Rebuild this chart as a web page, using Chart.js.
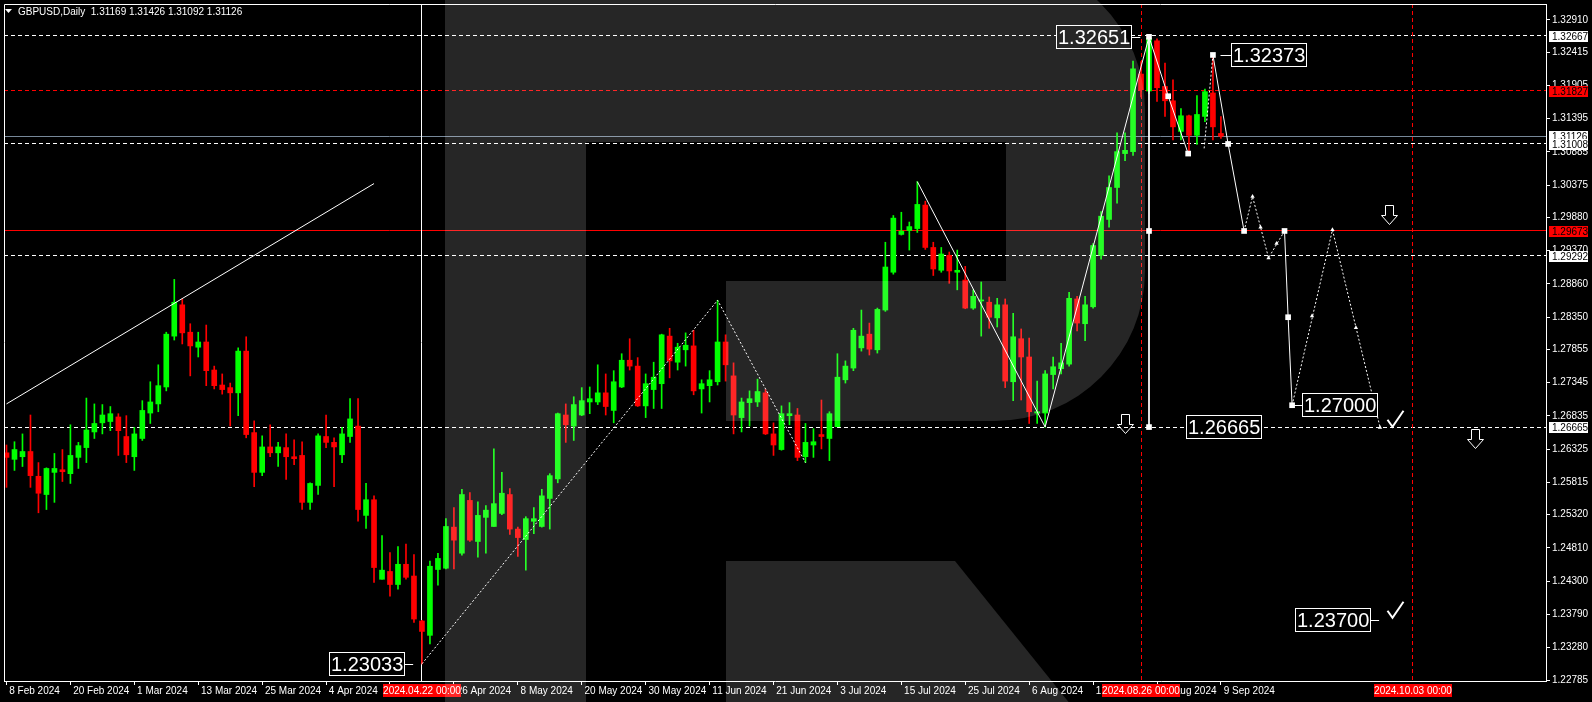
<!DOCTYPE html>
<html>
<head>
<meta charset="utf-8">
<script src="https://cdn.jsdelivr.net/npm/chart.js@4/dist/chart.umd.min.js"></script>
<style>
  html, body { margin: 0; padding: 0; background: #000; overflow: hidden; }
  canvas { display: block; }
</style>
</head>
<body>
<canvas id="chart" width="1592" height="702"></canvas>
<script>
// GBPUSD daily bars, bar 0 = 8 Feb 2024 ... bar 152 = 9 Sep 2024
const opens = [
  1.2627,1.2617,1.2621,1.2629,1.2591,1.2563,1.2597,1.2601,1.2595,1.2620,
  1.2635,1.2659,1.2673,1.2675,1.2682,1.2652,1.2621,1.2649,1.2688,1.2702,
  1.2728,1.2806,1.2854,1.2812,1.2789,1.2797,1.2754,1.2731,1.2727,1.2719,
  1.2783,1.2658,1.2597,1.2636,1.2627,1.2635,1.2621,1.2623,1.2551,1.2577,
  1.2652,1.2643,1.2624,1.2652,1.2668,1.2531,1.2555,1.2433,1.2445,1.2425,
  1.2456,1.2438,1.2369,1.2347,1.2448,1.2450,1.2513,1.2473,1.2554,1.2491,
  1.2528,1.2514,1.2534,1.2563,1.2510,1.2494,1.2522,1.2514,1.2557,1.2587,
  1.2685,1.2668,1.2685,1.2705,1.2705,1.2719,1.2692,1.2728,1.2769,1.2760,
  1.2699,1.2724,1.2733,1.2806,1.2766,1.2785,1.2791,1.2725,1.2730,1.2736,
  1.2797,1.2745,1.2681,1.2704,1.2705,1.2719,1.2656,1.2632,1.2684,1.2685,
  1.2621,1.2639,1.2655,1.2649,1.2667,1.2739,1.2757,1.2788,1.2809,1.2785,
  1.2846,1.2904,1.2962,1.2968,1.2971,1.3007,1.2942,1.2907,1.2930,1.2904,
  1.2892,1.2849,1.2860,1.2858,1.2834,1.2854,1.2736,1.2802,1.2774,1.2688,
  1.2688,1.2747,1.2756,1.2763,1.2863,1.2825,1.2851,1.2930,1.2985,1.3034,
  1.3086,1.3089,1.3208,1.3182,1.3259,1.3189,1.3167,1.3120,1.3144,1.3114,
  1.3143,1.3179,1.31169
];
const highs = [
  1.2639,1.2644,1.2656,1.2685,1.2612,1.2604,1.2626,1.2632,1.2670,1.2643,
  1.2711,1.2702,1.2701,1.2698,1.2687,1.2684,1.2666,1.2707,1.2736,1.2762,
  1.2812,1.2893,1.2863,1.2825,1.2812,1.2823,1.2760,1.2748,1.2734,1.2788,
  1.2805,1.2676,1.2653,1.2670,1.2643,1.2656,1.2647,1.2644,1.2581,1.2656,
  1.2685,1.2650,1.2666,1.2710,1.2710,1.2580,1.2561,1.2500,1.2474,1.2483,
  1.2487,1.2471,1.2370,1.2461,1.2473,1.2526,1.2543,1.2571,1.2566,1.2552,
  1.2546,1.2633,1.2597,1.2572,1.2513,1.2529,1.2543,1.2571,1.2595,1.2688,
  1.2702,1.2713,1.2727,1.2728,1.2762,1.2748,1.2753,1.2779,1.2802,1.2773,
  1.2748,1.2766,1.2809,1.2818,1.2795,1.2811,1.2815,1.2739,1.2753,1.2861,
  1.2808,1.2765,1.2711,1.2722,1.2740,1.2724,1.2673,1.2699,1.2704,1.2695,
  1.2672,1.2664,1.2708,1.2690,1.2779,1.2768,1.2818,1.2846,1.2826,1.2849,
  1.2950,1.2991,1.2996,1.2981,1.3043,1.3013,1.2950,1.2942,1.2935,1.2938,
  1.2913,1.2877,1.2889,1.2866,1.2864,1.2863,1.2841,1.2817,1.2803,1.2737,
  1.2753,1.2774,1.2795,1.2873,1.2867,1.2867,1.2948,1.2997,1.3052,1.3118,
  1.3118,1.3228,1.3227,1.32651,1.3262,1.3225,1.3199,1.3155,1.3145,1.3175,
  1.3185,1.32373,1.31426
];
const lows = [
  1.2574,1.2600,1.2606,1.2574,1.2535,1.2540,1.2551,1.2583,1.2580,1.2603,
  1.2612,1.2649,1.2656,1.2661,1.2623,1.2612,1.2600,1.2646,1.2672,1.2690,
  1.2722,1.2800,1.2794,1.2745,1.2774,1.2730,1.2725,1.2717,1.2668,1.2684,
  1.2650,1.2575,1.2592,1.2621,1.2606,1.2586,1.2609,1.2540,1.2540,1.2563,
  1.2635,1.2575,1.2612,1.2643,1.2522,1.2511,1.2428,1.2433,1.2407,1.2418,
  1.2433,1.2367,1.23033,1.2334,1.2424,1.2449,1.2449,1.2470,1.2491,1.2467,
  1.2473,1.2514,1.2532,1.2502,1.2468,1.2447,1.2503,1.2513,1.2510,1.2581,
  1.2643,1.2646,1.2684,1.2687,1.2701,1.2685,1.2673,1.2727,1.2754,1.2698,
  1.2681,1.2695,1.2695,1.2742,1.2754,1.2760,1.2716,1.2688,1.2705,1.2731,
  1.2737,1.2656,1.2659,1.2668,1.2698,1.2655,1.2623,1.2631,1.2670,1.2615,
  1.2612,1.2620,1.2633,1.2615,1.2667,1.2734,1.2753,1.2783,1.2777,1.2780,
  1.2844,1.2901,1.2961,1.2938,1.2965,1.2939,1.2899,1.2904,1.2887,1.2877,
  1.2848,1.2847,1.2806,1.2818,1.2820,1.2727,1.2707,1.2708,1.2672,1.2672,
  1.26665,1.2725,1.2748,1.2760,1.2814,1.2799,1.2849,1.2924,1.2973,1.3010,
  1.3075,1.3083,1.3173,1.3178,1.3166,1.3143,1.3107,1.3107,1.3088,1.3100,
  1.3135,1.3107,1.31092
];
const closes = [
  1.2620,1.2632,1.2629,1.2592,1.2565,1.2603,1.2603,1.2598,1.2623,1.2638,
  1.2662,1.2672,1.2685,1.2687,1.2661,1.2624,1.2656,1.2692,1.2705,1.2730,
  1.2809,1.2858,1.2811,1.2791,1.2797,1.2753,1.2730,1.2724,1.2719,1.2783,
  1.2655,1.2597,1.2636,1.2627,1.2636,1.2621,1.2618,1.2551,1.2580,1.2653,
  1.2643,1.2636,1.2656,1.2679,1.2540,1.2555,1.2451,1.2447,1.2425,1.2456,
  1.2436,1.2372,1.2353,1.2453,1.2465,1.2514,1.2493,1.2563,1.2493,1.2531,
  1.2539,1.2549,1.2565,1.2510,1.2497,1.2526,1.2526,1.2561,1.2592,1.2687,
  1.2670,1.2701,1.2707,1.2710,1.2719,1.2698,1.2736,1.2769,1.2760,1.2699,
  1.2733,1.2743,1.2808,1.2768,1.2789,1.2792,1.2722,1.2733,1.2739,1.2797,
  1.2762,1.2685,1.2705,1.2710,1.2721,1.2656,1.2639,1.2687,1.2687,1.2620,
  1.2643,1.2644,1.2652,1.2687,1.2743,1.2760,1.2815,1.2806,1.2786,1.2847,
  1.2912,1.2987,1.2967,1.2974,1.3008,1.2942,1.2909,1.2932,1.2906,1.2907,
  1.2849,1.2867,1.2861,1.2835,1.2854,1.2737,1.2805,1.2774,1.2690,1.2690,
  1.2748,1.2759,1.2765,1.2864,1.2826,1.2854,1.2945,1.2990,1.3034,1.3089,
  1.3091,1.3216,1.3184,1.3263,1.3187,1.3167,1.3127,1.3144,1.3114,1.3146,
  1.3181,1.3127,1.31126
];

// date axis: one label every 8 bars
const dateTickBars = [0,8,16,24,32,40,48,56,64,72,80,88,96,104,112,120,128,136,144,152];
const dateTickLabels = ['8 Feb 2024','20 Feb 2024','1 Mar 2024','13 Mar 2024','25 Mar 2024','4 Apr 2024',
  '16 Apr 2024','26 Apr 2024','8 May 2024','20 May 2024','30 May 2024','11 Jun 2024','21 Jun 2024',
  '3 Jul 2024','15 Jul 2024','25 Jul 2024','6 Aug 2024','16 Aug 2024','28 Aug 2024','9 Sep 2024'];
const priceTicks = [1.32910,1.32415,1.31905,1.31395,1.30885,1.30375,1.29880,1.29370,1.28860,1.28350,
  1.27855,1.27345,1.26835,1.26325,1.25815,1.25320,1.24810,1.24300,1.23790,1.23280,1.22785];

// horizontal levels and vertical markers
const levelPrices = [1.32667, 1.31827, 1.31126, 1.31008, 1.29673, 1.29292, 1.26665];
const markerBars = [52, 142, 176];
const markerDates = ['2024.04.22 00:00', '2024.08.26 00:00', '2024.10.03 00:00'];

// analyst drawings (bar index, price)
const trendUp = [{x: 0, y: 1.2702}, {x: 46, y: 1.3040}];
const waveDotted = [{x: 52, y: 1.23033}, {x: 89, y: 1.2861}, {x: 100, y: 1.2612}];
const waveSolid = [{x: 114, y: 1.3043}, {x: 130, y: 1.26665}, {x: 143, y: 1.32651}, {x: 145.4, y: 1.3174}, {x: 147.9, y: 1.3086}];
const waveDotted2 = [{x: 149.9, y: 1.3094}, {x: 151, y: 1.32373}];
const rangeBar = [{x: 143, y: 1.32651}, {x: 143, y: 1.26665}];
const fcSolid1 = [{x: 151, y: 1.32373}, {x: 152.9, y: 1.31008}, {x: 154.9, y: 1.29673}];
const fcDotted1 = [{x: 154.9, y: 1.29673}, {x: 155.96, y: 1.3020}, {x: 157.96, y: 1.2926}, {x: 159.96, y: 1.29673}];
const fcSolid2 = [{x: 159.96, y: 1.29673}, {x: 160.41, y: 1.2835}, {x: 160.91, y: 1.2700}];
const fcDotted2 = [{x: 160.91, y: 1.2700}, {x: 165.96, y: 1.2969}, {x: 171.91, y: 1.26665}];
const squareMarks = [{x: 143, y: 1.32651}, {x: 143, y: 1.29673}, {x: 143, y: 1.26665}, {x: 145.4, y: 1.3174},
  {x: 147.9, y: 1.3086}, {x: 151, y: 1.32373}, {x: 152.9, y: 1.31008}, {x: 154.9, y: 1.29673},
  {x: 159.96, y: 1.29673}, {x: 160.41, y: 1.2835}, {x: 160.91, y: 1.2700}];
const arrowMarks = [{x: 155.96, y: 1.3020}, {x: 156.96, y: 1.2973}, {x: 157.96, y: 1.2926}, {x: 158.96, y: 1.2948},
  {x: 163.4, y: 1.2837}, {x: 165.96, y: 1.2969}, {x: 168.9, y: 1.2819}, {x: 171.91, y: 1.2666}];

// price tags: value, bar index of the tag's left edge, bar index the leader runs to
const tagValues = [1.32651, 1.32373, 1.27000, 1.26665, 1.23700, 1.23033];
const tagLeft = [131.4, 153.3, 162.2, 147.6, 161.3, 40.35];
const tagLink = [141.9, 151.95, 160.91, null, 171.8, 50.9];
const checkMarks = [{x: 173.6, y: 1.2667}, {x: 173.6, y: 1.2374}];
const downArrows = [{x: 140, y: 1.2687}, {x: 173, y: 1.3007}, {x: 183.8, y: 1.2664}];

const X_MIN = -0.3125, X_MAX = 192.6875;
const Y_MIN = 1.227697, Y_MAX = 1.331546;

const GREEN = '#00ff00', RED = '#ff0000';
const candleColors = closes.map((c, i) => c >= opens[i] ? GREEN : RED);
const wickData = lows.map((l, i) => ({x: i, y: [l, highs[i]]}));
const bodyData = opens.map((o, i) => ({x: i, y: [o, closes[i]]}));

const levelStyle = [
  {color: '#ffffff', dash: [4, 3], box: '#ffffff'},
  {color: '#ff0000', dash: [4, 3], box: '#ff0000'},
  {color: '#778899', dash: [], box: '#ffffff'},
  {color: '#ffffff', dash: [4, 3], box: '#ffffff'},
  {color: '#ff0000', dash: [], box: '#ff0000'},
  {color: '#ffffff', dash: [4, 3], box: '#ffffff'},
  {color: '#ffffff', dash: [4, 3], box: '#ffffff'}
];
const markerStyle = [
  {color: '#ffffff', dash: []},
  {color: '#ff0000', dash: [4, 3]},
  {color: '#ff0000', dash: [4, 3]}
];

Chart.defaults.font.family = '"Liberation Sans", Arial, sans-serif';
Chart.defaults.font.size = 10;
Chart.defaults.color = '#ffffff';

function seg(points, dash) {
  return {
    type: 'line', data: points, borderColor: '#ffffff', borderWidth: 1,
    borderDash: dash || [], pointRadius: 0, tension: 0, fill: false, order: 0
  };
}

const snap = p => Math.round(p - 0.5) + 0.5;

const decor = {
  id: 'decor',
  beforeDatasetsDraw(chart) {
    const {ctx, chartArea: a, scales: {x, y}} = chart;
    ctx.save();
    ctx.lineWidth = 1;
    levelPrices.forEach((v, k) => {
      const yy = snap(y.getPixelForValue(v));
      ctx.strokeStyle = levelStyle[k].color;
      ctx.setLineDash(levelStyle[k].dash);
      ctx.beginPath(); ctx.moveTo(a.left, yy); ctx.lineTo(a.right, yy); ctx.stroke();
    });
    markerBars.forEach((b, k) => {
      const xx = snap(x.getPixelForValue(b));
      ctx.strokeStyle = markerStyle[k].color;
      ctx.setLineDash(markerStyle[k].dash);
      ctx.beginPath(); ctx.moveTo(xx, a.top); ctx.lineTo(xx, a.bottom); ctx.stroke();
    });
    ctx.restore();
  },
  afterDraw(chart) {
    const {ctx, chartArea: a, scales: {x, y}} = chart;
    ctx.save();

    // frame on left / top
    ctx.strokeStyle = '#ffffff'; ctx.lineWidth = 1;
    ctx.beginPath();
    ctx.moveTo(a.left + 0.5, a.bottom); ctx.lineTo(a.left + 0.5, a.top + 0.5); ctx.lineTo(a.right, a.top + 0.5);
    ctx.stroke();

    // price tags with leaders
    ctx.font = '20px "Liberation Sans", Arial, sans-serif';
    ctx.textBaseline = 'middle';
    tagValues.forEach((v, k) => {
      const text = v.toFixed(5);
      const cy = Math.round(y.getPixelForValue(v));
      const x0 = Math.round(x.getPixelForValue(tagLeft[k]));
      const w = Math.round(ctx.measureText(text).width) + 4;
      ctx.fillStyle = '#000000';
      ctx.fillRect(x0, cy - 12, w, 24);
      ctx.strokeStyle = '#ffffff';
      ctx.strokeRect(x0 + 0.5, cy - 11.5, w - 1, 23);
      ctx.fillStyle = '#ffffff';
      ctx.textAlign = 'left';
      ctx.fillText(text, x0 + 2, cy + 1);
      if (tagLink[k] !== null) {
        const xl = x.getPixelForValue(tagLink[k]);
        ctx.beginPath();
        if (xl > x0) { ctx.moveTo(x0 + w, cy + 0.5); ctx.lineTo(xl, cy + 0.5); }
        else { ctx.moveTo(xl, cy + 0.5); ctx.lineTo(x0, cy + 0.5); }
        ctx.stroke();
      }
    });

    // check marks
    ctx.lineWidth = 2;
    checkMarks.forEach(p => {
      const cx = x.getPixelForValue(p.x), cy = y.getPixelForValue(p.y);
      ctx.beginPath();
      ctx.moveTo(cx - 6, cy - 7); ctx.lineTo(cx - 1, cy); ctx.lineTo(cx + 10, cy - 16);
      ctx.stroke();
    });

    // hollow down arrows
    ctx.lineWidth = 1;
    downArrows.forEach(p => {
      const cx = Math.round(x.getPixelForValue(p.x)) + 0.5, ty = Math.round(y.getPixelForValue(p.y)) + 0.5;
      ctx.beginPath();
      ctx.moveTo(cx - 4, ty); ctx.lineTo(cx + 4, ty); ctx.lineTo(cx + 4, ty + 10);
      ctx.lineTo(cx + 8, ty + 10); ctx.lineTo(cx, ty + 19); ctx.lineTo(cx - 8, ty + 10);
      ctx.lineTo(cx - 4, ty + 10); ctx.closePath();
      ctx.stroke();
    });

    // price boxes on the axis
    ctx.font = '10px "Liberation Sans", Arial, sans-serif';
    levelPrices.forEach((v, k) => {
      const cy = Math.round(y.getPixelForValue(v));
      ctx.fillStyle = levelStyle[k].box;
      ctx.fillRect(a.right + 3, cy - 5, 39, 11);
      ctx.fillStyle = '#000000';
      ctx.textAlign = 'left';
      ctx.fillText(v.toFixed(5), a.right + 6, cy + 1);
    });

    // date boxes under vertical markers
    markerBars.forEach((b, k) => {
      const cx = Math.round(x.getPixelForValue(b));
      ctx.fillStyle = '#ff0000';
      ctx.fillRect(cx - 39, a.bottom + 3, 78, 13);
      ctx.fillStyle = '#ffffff';
      ctx.textAlign = 'center';
      ctx.fillText(markerDates[k], cx, a.bottom + 10);
    });

    // title
    const last = closes.length - 1;
    ctx.fillStyle = '#ffffff';
    ctx.beginPath(); ctx.moveTo(5, 9); ctx.lineTo(12, 9); ctx.lineTo(8.5, 13); ctx.closePath(); ctx.fill();
    ctx.textAlign = 'left'; ctx.textBaseline = 'alphabetic';
    ctx.fillText('GBPUSD,Daily  ' + [opens[last], highs[last], lows[last], closes[last]].map(v => v.toFixed(5)).join(' '), 18, 15);

    // background logo, a translucent overlay
    ctx.fillStyle = 'rgba(255,255,255,0.15)';
    ctx.beginPath();
    ctx.moveTo(445, -40);
    ctx.lineTo(995, -40);
    ctx.arc(995, 110, 150, -Math.PI / 2, 0);
    ctx.lineTo(1145, 271);
    ctx.arc(995, 271, 150, 0, Math.PI / 2);
    ctx.lineTo(726, 421);
    ctx.lineTo(726, 281);
    ctx.lineTo(1006, 281);
    ctx.lineTo(1006, 142);
    ctx.lineTo(586, 142);
    ctx.lineTo(586, 710);
    ctx.lineTo(445, 710);
    ctx.closePath();
    ctx.fill();
    ctx.beginPath();
    ctx.moveTo(726, 561); ctx.lineTo(955, 561); ctx.lineTo(1075, 710); ctx.lineTo(726, 710);
    ctx.closePath();
    ctx.fill();

    ctx.restore();
  }
};

new Chart(document.getElementById('chart'), {
  type: 'bar',
  data: {
    datasets: [
      seg(trendUp),
      seg(waveDotted, [2, 2]),
      seg(waveSolid),
      seg(waveDotted2, [2, 2]),
      seg(rangeBar),
      seg(fcSolid1),
      seg(fcDotted1, [2, 2]),
      seg(fcSolid2),
      seg(fcDotted2, [2, 2]),
      {type: 'line', data: squareMarks, showLine: false, pointStyle: 'rect', pointRadius: 4,
       pointBackgroundColor: '#ffffff', pointBorderWidth: 0, order: 0},
      {type: 'line', data: arrowMarks, showLine: false, pointStyle: 'triangle', pointRadius: 2.5,
       pointBackgroundColor: '#ffffff', pointBorderWidth: 0, order: 0},
      {type: 'bar', data: bodyData, backgroundColor: candleColors, barThickness: 5,
       minBarLength: 1, grouped: false, order: 5},
      {type: 'bar', data: wickData, backgroundColor: candleColors, barThickness: 1,
       grouped: false, order: 6}
    ]
  },
  options: {
    responsive: false,
    animation: false,
    devicePixelRatio: 1,
    layout: {padding: {left: 2, top: 2, right: 0, bottom: 0}},
    plugins: {legend: {display: false}, tooltip: {enabled: false}},
    scales: {
      x: {
        type: 'linear', min: X_MIN, max: X_MAX, offset: false, bounds: 'data',
        afterBuildTicks: s => { s.ticks = dateTickBars.map(v => ({value: v})); },
        afterFit: s => { s.height = 21; s.paddingLeft = 0; s.paddingRight = 0; },
        ticks: {
          autoSkip: false, maxRotation: 0, minRotation: 0, align: 'start', padding: 0,
          color: '#ffffff', callback: (v, i) => ' ' + dateTickLabels[i]
        },
        grid: {drawOnChartArea: false, drawTicks: true, tickLength: 4, color: '#ffffff', offset: false},
        border: {display: true, color: '#ffffff'}
      },
      y: {
        position: 'right', min: Y_MIN, max: Y_MAX, bounds: 'data',
        afterBuildTicks: s => { s.ticks = priceTicks.map(v => ({value: v})); },
        afterFit: s => { s.width = 46; s.paddingTop = 0; s.paddingBottom = 0; },
        ticks: {color: '#ffffff', padding: 2, callback: v => Number(v).toFixed(5)},
        grid: {drawOnChartArea: false, drawTicks: true, tickLength: 4, color: '#ffffff'},
        border: {display: true, color: '#ffffff'}
      }
    }
  },
  plugins: [decor]
});
</script>
</body>
</html>
